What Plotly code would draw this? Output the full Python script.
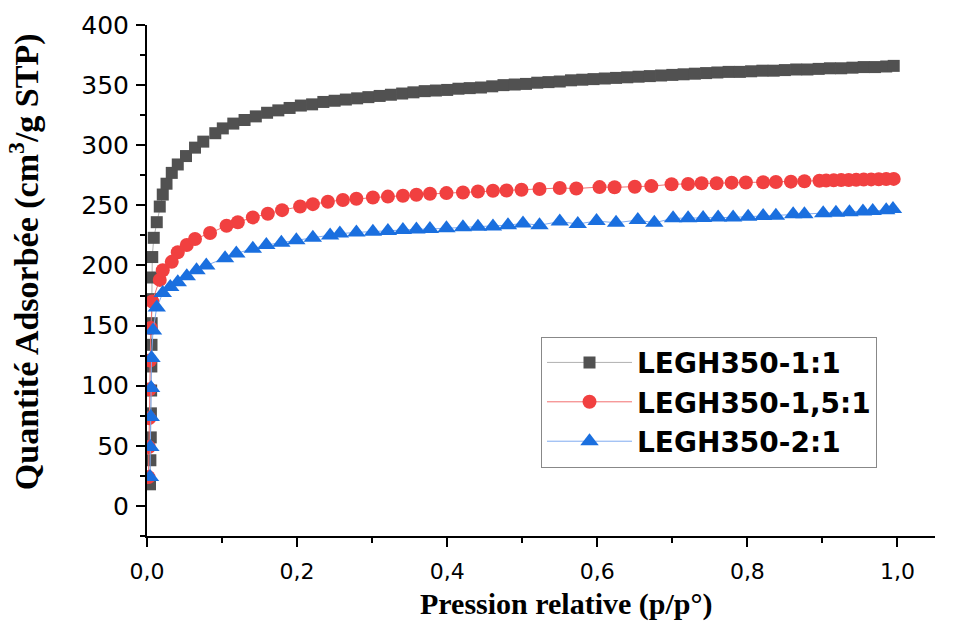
import plotly.graph_objects as go

# ---------------- data ----------------
p_11 = [0.004, 0.0045, 0.005, 0.0052, 0.0055, 0.0058, 0.006, 0.0062, 0.0065, 0.0068, 0.007,
        0.009, 0.013, 0.017, 0.021, 0.026, 0.033, 0.041, 0.052, 0.064, 0.075, 0.091, 0.101, 0.115,
        0.13, 0.145, 0.16, 0.175, 0.19, 0.205, 0.22, 0.235, 0.25, 0.265,
        0.28, 0.295, 0.31, 0.325, 0.34, 0.355, 0.37, 0.385, 0.40, 0.415,
        0.43, 0.445, 0.46, 0.475, 0.49, 0.505, 0.52, 0.535, 0.55, 0.565,
        0.58, 0.595, 0.61, 0.625, 0.64, 0.655, 0.67, 0.685, 0.70, 0.715,
        0.73, 0.745, 0.76, 0.775, 0.79, 0.805, 0.82, 0.835, 0.85, 0.865,
        0.88, 0.895, 0.91, 0.925, 0.94, 0.955, 0.97, 0.985, 0.995]
q_11 = [18, 38, 57, 77, 96, 116, 134, 152, 172, 190, 207,
        223, 236, 249, 259, 268, 277, 284, 291, 298, 303, 310, 314, 318,
        321, 324, 327, 329, 331, 333, 334, 336, 337, 338,
        339, 340, 341, 342, 343, 344, 345, 345.5, 346, 347,
        347.5, 348, 349, 350, 350.5, 351, 352, 352.5, 353, 354,
        354.5, 355, 355.5, 356, 356.5, 357, 357.5, 358, 358.5, 359,
        359.5, 360, 360.5, 361, 361, 361.5, 362, 362, 362.5, 363,
        363, 363.5, 364, 364, 364.5, 365, 365, 365.5, 366]

p_151 = [0.002, 0.0025, 0.003, 0.0035, 0.004, 0.005, 0.007,
         0.017, 0.021, 0.033, 0.041, 0.053, 0.064, 0.084, 0.106, 0.121, 0.141, 0.161, 0.180,
         0.204, 0.221, 0.241,
         0.261, 0.279, 0.301, 0.321, 0.341, 0.359, 0.377, 0.399, 0.421, 0.441, 0.461, 0.479,
         0.499, 0.523, 0.550, 0.572, 0.603, 0.623,
         0.650, 0.672, 0.699, 0.721, 0.739, 0.759, 0.779, 0.798, 0.821, 0.838, 0.858, 0.876, 0.896,
         0.905, 0.915, 0.925, 0.935, 0.945, 0.955, 0.965, 0.975, 0.985, 0.995]
q_151 = [24, 49, 73, 97, 121, 148, 170,
         188, 196, 203, 211, 217, 222, 227, 233, 236, 240, 243, 246,
         249, 251, 253,
         254.5, 255.5, 256.5, 257.3, 258, 258.8, 259.6, 260.2, 260.7, 261.5, 262.1, 262.4,
         263, 263.6, 264.4, 264, 265.2, 265,
         265.5, 266, 267.5, 267.8, 268.4, 268.4, 268.9, 269, 269.2, 269.4, 269.7, 270, 270.5,
         270.6, 270.8, 271, 271.1, 271.3, 271.4, 271.6, 271.7, 271.9, 272]

p_21 = [0.004, 0.0045, 0.005, 0.0055, 0.006, 0.008,
        0.013, 0.021, 0.031, 0.041, 0.053, 0.066, 0.079, 0.104, 0.119, 0.141, 0.159, 0.179,
        0.199, 0.221, 0.244,
        0.257, 0.279, 0.301, 0.321, 0.341, 0.359, 0.377, 0.399, 0.421, 0.441, 0.461, 0.481,
        0.501, 0.523, 0.550, 0.574, 0.599, 0.625,
        0.654, 0.676, 0.701, 0.721, 0.741, 0.761, 0.781, 0.801, 0.821, 0.838, 0.861, 0.876,
        0.901, 0.918, 0.936, 0.954, 0.967, 0.985, 0.994]
q_21 = [24, 49, 74, 98, 123, 146,
        165, 177, 182, 186, 191, 196, 200, 206, 210, 214, 217, 219,
        221, 223, 225,
        226.5, 227.5, 228, 228.7, 229.5, 230, 230.3, 230.9, 231.7, 232.3, 232.5, 233.5,
        235, 233.5, 236.5, 234.5, 237, 235.5,
        237.8, 235.5, 239.2, 239.2, 239.4, 239.8, 240, 240.6, 241.2, 241.4, 242.6, 242.6,
        243.4, 243.9, 244.3, 244.8, 245.4, 246, 247]

series_names = ["LEGH350-1:1", "LEGH350-1,5:1", "LEGH350-2:1"]
x_title = "Pression relative (p/p°)"
y_title = "Quantité Adsorbée (cm<sup>3</sup>/g STP)"

# ---------------- figure ----------------
fig = go.Figure()
fig.add_trace(go.Scatter(
    x=p_11, y=q_11, name=series_names[0], mode="lines+markers",
    line=dict(color="#b0b0b0", width=1),
    marker=dict(symbol="square", size=12, color="#515151")))
fig.add_trace(go.Scatter(
    x=p_151, y=q_151, name=series_names[1], mode="lines+markers",
    line=dict(color="#f27070", width=1),
    marker=dict(symbol="circle", size=14, color="#F14040")))
fig.add_trace(go.Scatter(
    x=p_21, y=q_21, name=series_names[2], mode="lines+markers",
    line=dict(color="#7faaf0", width=1),
    marker=dict(symbol="triangle-up", size=16, color="#1A6FDF")))

axis_common = dict(showgrid=False, zeroline=False, showline=True, linecolor="black",
                   linewidth=2, ticks="outside", tickcolor="black", tickwidth=2, ticklen=9)

fig.update_xaxes(range=[0, 1.05], tick0=0, dtick=0.2, tickformat=".1f",
                 tickfont=dict(family="DejaVu Sans", size=22, color="black"),
                 ticklabelstandoff=6,
                 minor=dict(dtick=0.1, tick0=0, ticks="outside", ticklen=5, tickwidth=2,
                            tickcolor="black", showgrid=False),
                 **axis_common)
fig.update_yaxes(range=[-25, 400], tick0=0, dtick=50,
                 tickfont=dict(family="DejaVu Sans", size=25, color="black"),
                 ticklabelstandoff=2,
                 minor=dict(dtick=25, tick0=0, ticks="outside", ticklen=5, tickwidth=2,
                            tickcolor="black", showgrid=False),
                 **axis_common)

fig.add_annotation(text=x_title, xref="paper", yref="paper", x=0.532, y=-0.168,
                   showarrow=False, xanchor="center", yanchor="bottom", borderpad=0,
                   font=dict(family="Liberation Serif", size=30, color="black", weight="bold"))
fig.add_annotation(text=y_title, xref="paper", yref="paper", x=-0.156, y=0.536,
                   showarrow=False, xanchor="center", yanchor="middle", textangle=-90,
                   font=dict(family="Liberation Serif", size=34, color="black", weight="bold"))

fig.update_layout(
    width=964, height=623, autosize=False,
    margin=dict(l=147, r=29, t=25, b=87),
    paper_bgcolor="white", plot_bgcolor="white",
    separators=",.",
    showlegend=True,
    legend=dict(x=0.5, y=0.39, xanchor="left", yanchor="top",
                bgcolor="white", bordercolor="#888888", borderwidth=1,
                itemwidth=85,
                font=dict(family="DejaVu Sans", size=28, color="black", weight="bold")),
)

fig.write_html("out.html", config={"displayModeBar": False},
               post_script="document.body.style.margin='0';document.body.style.overflow='hidden';")
